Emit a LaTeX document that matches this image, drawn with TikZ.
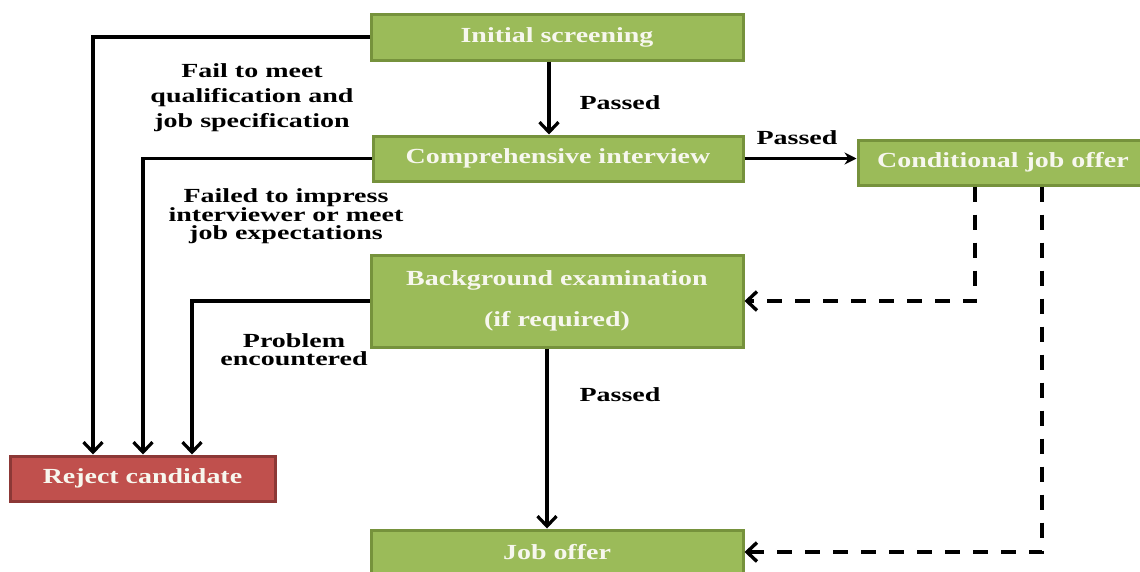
\documentclass[tikz,border=0pt]{standalone}
\usepackage{fontspec}
\setmainfont{Liberation Serif}[FakeStretch=1.4]
\newfontfamily\stagefont{Liberation Serif}[FakeStretch=1.3]
\usetikzlibrary{arrows.meta}
\definecolor{boxgreen}{HTML}{9BBB59}
\definecolor{boxgreenedge}{HTML}{76923C}
\definecolor{boxred}{HTML}{C0504D}
\definecolor{boxrededge}{HTML}{8C3836}
\definecolor{boxtext}{HTML}{F7F7EE}
\tikzset{
  stage/.style={draw=boxgreenedge, fill=boxgreen, line width=3pt, text=boxtext,
    font=\stagefont\fontsize{21.5}{26}\selectfont\bfseries, inner sep=0pt, align=center},
  rejectbox/.style={stage, draw=boxrededge, fill=boxred},
  note/.style={font=\fontsize{20}{25}\selectfont\bfseries, align=center, text=black, inner sep=0pt},
  flow/.style={line width=3.2pt, -{Straight Barb[length=10pt,width=19pt]}},
  thinflow/.style={line width=2.2pt, -{Stealth[length=12pt,width=12pt]}},
  condflow/.style={line width=3.4pt, dash pattern=on 15pt off 13pt,
    -{Straight Barb[length=10pt,width=19pt]}}
}
\begin{document}
\begin{tikzpicture}[x=1pt, y=-1pt]
\useasboundingbox (0,0) rectangle (1140,571);
\clip (0,0) rectangle (1140,571);
\fill[white] (0,0) rectangle (1140,571);

% process stages
\node[stage, minimum width=372pt, minimum height=46pt] (init) at (557,37) {Initial screening};
\node[stage, minimum width=370pt, minimum height=45pt] (comp) at (558,158.5) {Comprehensive interview};
\node[stage, minimum width=290pt, minimum height=45pt] (cond) at (1003,162.5) {Conditional job offer};
\node[stage, minimum width=372pt, minimum height=92pt] (bg) at (557,301)
  {\raisebox{4pt}{\begin{tabular}{@{}c@{}}Background examination\\[15pt](if required)\end{tabular}}};
\node[stage, minimum width=372pt, minimum height=44pt] (job) at (557,552) {Job offer};
\node[rejectbox, minimum width=265pt, minimum height=45pt] (rej) at (142.5,478.5) {Reject candidate};

% columns used by the connectors
\coordinate (r1) at (93,0);
\coordinate (r2) at (143,0);
\coordinate (r3) at (192,0);
\coordinate (m1) at (549,0);
\coordinate (m2) at (547,0);
\coordinate (d1) at (975,0);
\coordinate (d2) at (1042,0);

% rejection paths
\draw[flow] (init.west) -| (rej.north -| r1);
\draw[flow] (comp.west) -| (rej.north -| r2);
\draw[flow] (bg.west) -| (rej.north -| r3);

% main flow
\draw[flow] (init.south -| m1) -- (comp.north -| m1);
\draw[thinflow] (comp.east) -- (comp.east -| cond.west);
\draw[flow] (bg.south -| m2) -- (job.north -| m2);

% conditional offer paths
\draw[condflow] (cond.south -| d1) |- (bg.east);
\draw[condflow] (cond.south -| d2) |- (job.east);

% labels
\node[note] (l1) at (252,97.5) {Fail to meet\\qualification and\\job specification};
\node[note, font=\fontsize{20}{18}\selectfont\bfseries] (l2) at (286,216) {Failed to impress\\interviewer or meet\\job expectations};
\node[note, font=\fontsize{20}{18}\selectfont\bfseries] (l3) at (294,350) {Problem\\encountered};
\node[note] (p1) at (620,103) {Passed};
\node[note] (p2) at (797,138) {Passed};
\node[note] (p3) at (620,395) {Passed};
\end{tikzpicture}
\end{document}
